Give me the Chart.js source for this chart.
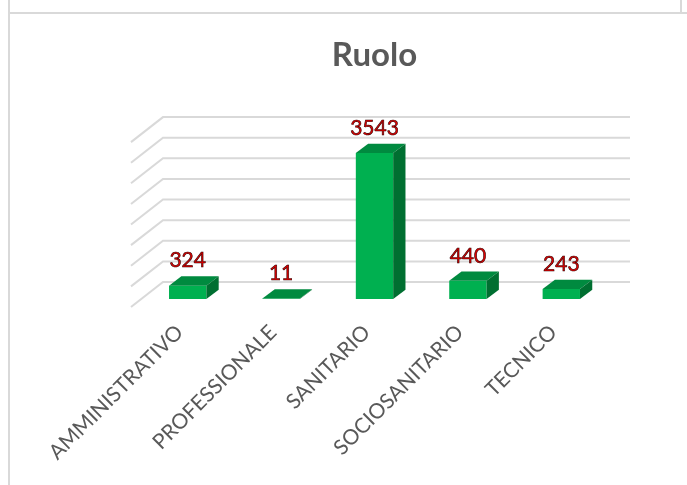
<!DOCTYPE html>
<html>
<head>
<meta charset="utf-8">
<script src="https://cdn.jsdelivr.net/npm/chart.js@4/dist/chart.umd.min.js"></script>
<style>
  html, body { margin: 0; padding: 0; background: #ffffff; }
  #wrap { width: 687px; height: 485px; position: relative; }
</style>
</head>
<body>
<div id="wrap"><canvas id="c" width="687" height="485"></canvas></div>
<script>
const chartTitle = 'Ruolo';
const categories = ['AMMINISTRATIVO', 'PROFESSIONALE', 'SANITARIO', 'SOCIOSANITARIO', 'TECNICO'];
const values = [324, 11, 3543, 440, 243];
const axisMax = 4000;
const axisStep = 500;

const FRONT = '#00b050';
const TOP = '#008a3f';
const SIDE = '#006f31';
const GRID = '#d9d9d9';
const BAR_DX = 12.3, BAR_DY = -9.3;
const WALL_DX = 22, WALL_DY = -17;
const FLOOR_DX = -10, FLOOR_DY = 8;

const framePlugin = {
  id: 'frame',
  beforeDraw(chart) {
    const ctx = chart.ctx;
    ctx.save();
    ctx.fillStyle = '#ffffff';
    ctx.fillRect(0, 0, chart.width, chart.height);
    ctx.strokeStyle = GRID;
    ctx.lineWidth = 2;
    ctx.beginPath();
    ctx.moveTo(9, 0); ctx.lineTo(9, chart.height);
    ctx.moveTo(8, 13); ctx.lineTo(chart.width, 13);
    ctx.moveTo(681, 0); ctx.lineTo(681, 13);
    ctx.stroke();
    ctx.restore();
  }
};

const wallPlugin = {
  id: 'wall3d',
  beforeDatasetsDraw(chart) {
    const ctx = chart.ctx;
    const ys = chart.scales.y;
    const area = chart.chartArea;
    ctx.save();
    ctx.strokeStyle = GRID;
    ctx.lineWidth = 2;
    ctx.beginPath();
    ys.ticks.forEach(t => {
      const y = ys.getPixelForValue(t.value);
      ctx.moveTo(area.left + FLOOR_DX, y + FLOOR_DY);
      ctx.lineTo(area.left + WALL_DX, y + WALL_DY);
      ctx.lineTo(area.right + WALL_DX, y + WALL_DY);
    });
    ctx.stroke();
    ctx.restore();
  }
};

const bar3dPlugin = {
  id: 'bar3d',
  afterDatasetsDraw(chart) {
    const ctx = chart.ctx;
    const meta = chart.getDatasetMeta(0);
    ctx.save();
    meta.data.forEach((bar, i) => {
      const p = bar.getProps(['x', 'y', 'base', 'width'], true);
      const l = p.x - p.width / 2, r = p.x + p.width / 2;
      const top = Math.min(p.y, p.base), bot = Math.max(p.y, p.base);
      ctx.fillStyle = TOP;
      ctx.beginPath();
      ctx.moveTo(l, top); ctx.lineTo(r, top);
      ctx.lineTo(r + BAR_DX, top + BAR_DY); ctx.lineTo(l + BAR_DX, top + BAR_DY);
      ctx.closePath(); ctx.fill();
      ctx.fillStyle = SIDE;
      ctx.beginPath();
      ctx.moveTo(r, top); ctx.lineTo(r + BAR_DX, top + BAR_DY);
      ctx.lineTo(r + BAR_DX, bot + BAR_DY); ctx.lineTo(r, bot);
      ctx.closePath(); ctx.fill();
      ctx.font = '21px Lato';
      ctx.textAlign = 'center';
      ctx.textBaseline = 'alphabetic';
      const ty = top + BAR_DY - 9;
      const txt = String(values[i]);
      ctx.fillStyle = '#e40000';
      ctx.fillText(txt, p.x, ty);
      ctx.lineWidth = 0.6;
      ctx.strokeStyle = '#2a0000';
      ctx.strokeText(txt, p.x, ty);
    });
    ctx.restore();
  }
};

new Chart(document.getElementById('c'), {
  type: 'bar',
  data: {
    labels: categories,
    datasets: [{
      data: values,
      backgroundColor: FRONT,
      borderWidth: 0,
      categoryPercentage: 1.0,
      barPercentage: 0.4
    }]
  },
  options: {
    responsive: false,
    animation: false,
    events: [],
    layout: { padding: { left: 141, right: 79, top: 0, bottom: 0 } },
    plugins: {
      legend: { display: false },
      tooltip: { enabled: false },
      title: {
        display: true,
        text: chartTitle,
        color: '#595959',
        font: { family: 'Lato', size: 33, weight: 'bold', lineHeight: 1.2 },
        padding: { top: 36, bottom: 58.5 }
      }
    },
    scales: {
      y: {
        display: false,
        min: 0,
        max: axisMax,
        ticks: { stepSize: axisStep }
      },
      x: {
        grid: { display: false, drawTicks: false },
        border: { display: false },
        ticks: {
          autoSkip: false,
          minRotation: 45,
          maxRotation: 45,
          padding: 21,
          labelOffset: -8,
          color: '#595959',
          font: { family: 'Lato', size: 21 }
        },
        afterFit(scale) { scale.height = 186; }
      }
    }
  },
  plugins: [framePlugin, wallPlugin, bar3dPlugin]
});
</script>
</body>
</html>
